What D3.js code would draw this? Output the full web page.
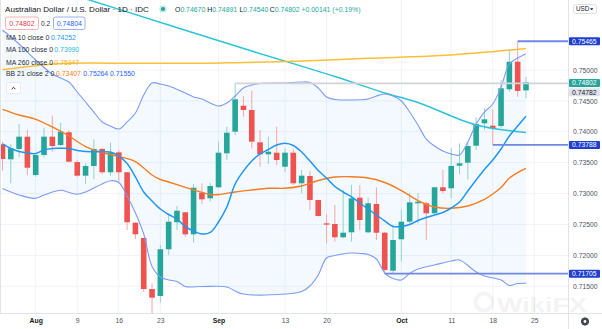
<!DOCTYPE html>
<html><head><meta charset="utf-8">
<script src="https://cdn.jsdelivr.net/npm/d3@7"></script>
<style>
body{margin:0;background:#fff;overflow:hidden}
svg{display:block}
text{font-family:"Liberation Sans",Arial,sans-serif}
</style></head>
<body><svg id="c" width="602" height="329"></svg>
<script>
// ---------- DATA ----------
const dates = ["Jul 27","Jul 28","Jul 29","Jul 30","Aug 2","Aug 3","Aug 4","Aug 5","Aug 6","Aug 9","Aug 10","Aug 11","Aug 12","Aug 13","Aug 16","Aug 17","Aug 18","Aug 19","Aug 20","Aug 23","Aug 24","Aug 25","Aug 26","Aug 27","Aug 30","Aug 31","Sep 1","Sep 2","Sep 3","Sep 6","Sep 7","Sep 8","Sep 9","Sep 10","Sep 13","Sep 14","Sep 15","Sep 16","Sep 17","Sep 20","Sep 21","Sep 22","Sep 23","Sep 24","Sep 27","Sep 28","Sep 29","Sep 30","Oct 1","Oct 4","Oct 5","Oct 6","Oct 7","Oct 8","Oct 11","Oct 12","Oct 13","Oct 14","Oct 15","Oct 18","Oct 19","Oct 20","Oct 21","Oct 22"];
const futureDays = ["Oct 25"];
const open  = [0.73798,0.73555,0.73722,0.73921,0.73301,0.73625,0.73921,0.73786,0.73992,0.73511,0.73290,0.73447,0.73722,0.73345,0.73668,0.73345,0.72529,0.72282,0.71456,0.71343,0.72099,0.72536,0.72697,0.72341,0.73015,0.72924,0.73102,0.73652,0.74002,0.74422,0.74353,0.73830,0.73636,0.73662,0.73435,0.73662,0.73167,0.73285,0.72896,0.72519,0.72508,0.72293,0.72374,0.72934,0.72374,0.72832,0.72367,0.71752,0.72261,0.72545,0.72843,0.72843,0.72681,0.73102,0.73086,0.73451,0.73500,0.73775,0.74138,0.74099,0.74094,0.74688,0.75134,0.74670];
const high  = [0.73840,0.73803,0.74126,0.74029,0.73657,0.74066,0.74261,0.74147,0.74029,0.73544,0.73490,0.73879,0.73733,0.73824,0.73706,0.73350,0.72532,0.72290,0.71549,0.72168,0.72681,0.72799,0.72702,0.73151,0.73167,0.73176,0.73840,0.74083,0.74782,0.74579,0.74665,0.74029,0.73921,0.74083,0.73733,0.73717,0.73382,0.73366,0.72904,0.72665,0.72816,0.73060,0.73139,0.73139,0.72934,0.73102,0.72380,0.72492,0.72746,0.73015,0.73005,0.72869,0.73107,0.73382,0.73733,0.73814,0.73840,0.74235,0.74380,0.74353,0.74838,0.75324,0.75465,0.74891];
const low   = [0.73371,0.73167,0.73587,0.73301,0.73273,0.73587,0.73678,0.73770,0.73510,0.73273,0.73155,0.73231,0.73312,0.73290,0.73193,0.72411,0.72265,0.71408,0.71063,0.71235,0.72007,0.72411,0.72303,0.72206,0.72832,0.72869,0.73086,0.73544,0.73948,0.74244,0.73733,0.73435,0.73474,0.73463,0.73354,0.73139,0.73005,0.72735,0.72627,0.72196,0.72222,0.72277,0.72222,0.72411,0.72358,0.72249,0.71705,0.71710,0.71898,0.72492,0.72519,0.72249,0.72654,0.73005,0.72924,0.73317,0.73231,0.73706,0.74029,0.73788,0.74057,0.74649,0.74568,0.74540];
const close = [0.73560,0.73733,0.73921,0.73419,0.73625,0.73921,0.73770,0.74002,0.73516,0.73290,0.73447,0.73722,0.73345,0.73668,0.73345,0.72536,0.72341,0.71456,0.71316,0.72099,0.72545,0.72723,0.72341,0.73095,0.72908,0.73123,0.73662,0.73985,0.74526,0.74353,0.73840,0.73636,0.73678,0.73544,0.73662,0.73167,0.73290,0.72896,0.72638,0.72497,0.72293,0.72367,0.72924,0.72573,0.72843,0.72367,0.71764,0.72249,0.72545,0.72859,0.72869,0.72681,0.73102,0.73042,0.73447,0.73490,0.73770,0.74126,0.74202,0.74062,0.74704,0.75134,0.74661,0.74802];

// MA 10 (one value per day)
const ma10 = [0.73803,0.73730,0.73681,0.73657,0.73649,0.73706,0.73730,0.73733,0.73730,0.73697,0.73681,0.73678,0.73678,0.73673,0.73608,0.73487,0.73269,0.73026,0.72880,0.72751,0.72662,0.72589,0.72464,0.72395,0.72346,0.72371,0.72541,0.72783,0.73155,0.73366,0.73528,0.73641,0.73714,0.73786,0.73814,0.73778,0.73673,0.73528,0.73374,0.73252,0.73115,0.73026,0.72945,0.72848,0.72751,0.72654,0.72557,0.72468,0.72468,0.72500,0.72565,0.72613,0.72654,0.72694,0.72767,0.72864,0.73042,0.73220,0.73390,0.73544,0.73722,0.73932,0.74094,0.74252];
// sparse series: [day index, value]
const ma100 = [[0,0.76570],[10,0.76152],[20,0.75728],[30,0.75307],[40,0.74895],[46,0.74628],[50,0.74474],[57,0.74110],[63,0.73990]];
const ma260 = [[0,0.75003],[4,0.75070],[8,0.75108],[16,0.75108],[24,0.75108],[28,0.75118],[36,0.75146],[44,0.75189],[54,0.75243],[63,0.75347]];
const bbUpper = [[0,0.75647],[2,0.75421],[4,0.75162],[6,0.74935],[7,0.74871],[8,0.74806],[9,0.74644],[10,0.74482],[11,0.74320],[12,0.74159],[13,0.74094],[14,0.74045],[15,0.74159],[16,0.74304],[17,0.74595],[18,0.74790],[19,0.74773],[20,0.74741],[22,0.74628],[23,0.74563],[24,0.74531],[25,0.74466],[26,0.74417],[27,0.74466],[28,0.74579],[29,0.74709],[30,0.74757],[31,0.74782],[34,0.74790],[36,0.74806],[37,0.74798],[38,0.74709],[39,0.74563],[40,0.74523],[42,0.74515],[44,0.74531],[45,0.74579],[46,0.74612],[47,0.74579],[48,0.74498],[49,0.74320],[50,0.74110],[51,0.73883],[52,0.73770],[53,0.73689],[54,0.73641],[55,0.73625],[56,0.73835],[57,0.74126],[58,0.74320],[59,0.74450],[60,0.74725],[61,0.75097],[62,0.75194],[63,0.75264]];
const bbLower = [[0,0.73083],[2,0.72977],[4,0.72924],[5,0.72977],[7,0.73053],[8,0.73018],[9,0.72989],[10,0.73026],[11,0.73091],[12,0.73155],[13,0.73209],[14,0.73180],[15,0.72961],[16,0.72686],[17,0.72346],[18,0.71820],[19,0.71650],[20,0.71602],[21,0.71578],[22,0.71497],[24,0.71497],[27,0.71489],[28,0.71424],[29,0.71375],[34,0.71375],[36,0.71416],[37,0.71505],[38,0.71683],[39,0.71958],[40,0.71998],[42,0.72039],[43,0.72031],[44,0.72015],[45,0.71942],[46,0.71715],[47,0.71626],[48,0.71602],[49,0.71707],[50,0.71780],[52,0.71845],[54,0.71909],[55,0.71926],[57,0.71731],[58,0.71667],[60,0.71602],[61,0.71513],[62,0.71545],[63,0.71550]];
const bbBasis = [[0,0.74364],[2,0.74272],[4,0.74202],[6,0.74078],[8,0.73932],[10,0.73762],[12,0.73665],[14,0.73600],[16,0.73519],[17,0.73414],[18,0.73301],[19,0.73228],[20,0.73188],[22,0.73102],[24,0.73021],[25,0.72985],[26,0.72985],[28,0.73026],[30,0.73058],[32,0.73086],[34,0.73086],[36,0.73123],[38,0.73212],[40,0.73269],[42,0.73273],[44,0.73252],[46,0.73180],[48,0.73050],[50,0.72888],[52,0.72783],[54,0.72762],[56,0.72799],[58,0.72905],[59,0.72994],[60,0.73099],[61,0.73252],[62,0.73341],[63,0.73407]];

// horizontal levels: [start day index, value]
const levels = [[62,0.75465],[59,0.73788],[46,0.71705]];
const grayLevel = [28,0.74782];
const lastPrice = 0.74802;

const yTickValues = [0.715,0.72,0.725,0.73,0.735,0.74,0.745,0.75];
const xTickDays = ["Aug 2","Aug 9","Aug 16","Aug 23","Sep 1","Sep 13","Sep 20","Oct 1","Oct 11","Oct 18","Oct 25"];
const xTickLabels = ["Aug","9","16","23","Sep","13","20","Oct","11","18","25"];
const monthLabels = ["Aug","Sep","Oct"];

// ---------- CHART ----------
const plotR = 568, plotB = 313;
const svg = d3.select("#c");
svg.append("rect").attr("width",602).attr("height",329).attr("fill","#fff");

const x = d3.scalePoint().domain(dates.concat(futureDays)).range([2.46, 534.3]);
const y = d3.scaleLinear().domain([0.715, 0.755]).range([286.3, 39.1]);
const xi = i => x(dates[i]);

// grid
const grid = svg.append("g");
grid.selectAll("line.h").data(yTickValues).join("line").attr("class","h")
  .attr("x1",0).attr("x2",plotR).attr("y1",d=>y(d)).attr("y2",d=>y(d))
  .attr("stroke","#f0f3fa").attr("stroke-width",1);
grid.selectAll("line.v").data(xTickDays).join("line").attr("class","v")
  .attr("x1",d=>x(d)).attr("x2",d=>x(d)).attr("y1",0).attr("y2",plotB)
  .attr("stroke","#f0f3fa").attr("stroke-width",1);

svg.append("clipPath").attr("id","clip").append("rect").attr("x",0).attr("y",0).attr("width",plotR).attr("height",plotB);
const g = svg.append("g").attr("clip-path","url(#clip)");

const lineGen = d3.line().x(d=>xi(d[0])).y(d=>y(d[1])).curve(d3.curveCatmullRom.alpha(0.5));

// BB fill
const upPath = lineGen(bbUpper);
const lowPath = lineGen(bbLower.slice().reverse()).replace(/^M/,"L");
g.append("path").attr("d", upPath + lowPath + "Z").attr("fill","rgba(33,150,243,0.055)");

// candles
const cand = g.append("g");
dates.forEach((d,i)=>{
  const up = close[i] >= open[i];
  const cx = xi(i);
  cand.append("line").attr("x1",cx).attr("x2",cx).attr("y1",y(high[i])).attr("y2",y(low[i]))
    .attr("stroke", up ? "#93d3cc" : "#f7a6a4").attr("stroke-width",1);
  const top = y(Math.max(open[i],close[i])), bot = y(Math.min(open[i],close[i]));
  cand.append("rect").attr("x",cx-2.8).attr("width",5.6).attr("y",top).attr("height",Math.max(1.2,bot-top))
    .attr("fill", up ? "#26a69a" : "#ef5350");
});

// indicator lines
function drawLine(pts,color,w){ g.append("path").attr("d",lineGen(pts)).attr("fill","none").attr("stroke",color).attr("stroke-width",w).attr("stroke-linejoin","round"); }
drawLine(ma100,"#2cc3d8",1.5);
drawLine(ma260,"#fbbf3a",1.5);
drawLine(bbUpper,"#7c9cf4",1.1);
drawLine(bbLower,"#7c9cf4",1.1);
drawLine(bbBasis,"#f57c20",1.4);
drawLine(ma10.map((v,i)=>[i,v]),"#2196f3",1.5);

// drawings: gray level and blue levels
g.append("line").attr("x1",xi(grayLevel[0])).attr("x2",plotR).attr("y1",y(grayLevel[1])).attr("y2",y(grayLevel[1]))
  .attr("stroke","#d1d4dc").attr("stroke-width",1.8);
levels.forEach(l=>{
  g.append("line").attr("x1",xi(l[0])).attr("x2",plotR).attr("y1",y(l[1])).attr("y2",y(l[1]))
    .attr("stroke","#6f87e6").attr("stroke-width",1.8);
});

// frame lines
svg.append("line").attr("x1",0).attr("x2",602).attr("y1",plotB+0.5).attr("y2",plotB+0.5).attr("stroke","#e0e3eb");
svg.append("line").attr("x1",plotR+0.5).attr("x2",plotR+0.5).attr("y1",0).attr("y2",329).attr("stroke","#e0e3eb");
svg.append("line").attr("x1",0.5).attr("x2",0.5).attr("y1",0).attr("y2",plotB).attr("stroke","#e0e3eb");

// watermark (faint)
svg.append("text").attr("x",497).attr("y",312).attr("font-size",21).attr("font-weight","bold").attr("fill","#000").attr("opacity",0.045)
  .attr("textLength",90).attr("lengthAdjust","spacingAndGlyphs").text("WikiFX");
svg.append("circle").attr("cx",484).attr("cy",302).attr("r",8.5).attr("fill","none").attr("stroke","#000").attr("stroke-width",4).attr("opacity",0.045);

// y axis
const yAxis = svg.append("g").attr("transform",`translate(${plotR},0)`)
  .call(d3.axisRight(y).tickValues(yTickValues).tickSize(0).tickPadding(5).tickFormat(d3.format(".5f")));
yAxis.select(".domain").remove();
yAxis.selectAll("text").attr("font-size",6.8).attr("fill","#50535e").attr("font-family","Liberation Sans, Arial, sans-serif");

// x axis
const xAxis = svg.append("g").attr("transform",`translate(0,${plotB})`)
  .call(d3.axisBottom(x).tickValues(xTickDays).tickSize(0).tickPadding(5).tickFormat((d,i)=>xTickLabels[i]));
xAxis.select(".domain").remove();
xAxis.selectAll("text").attr("font-size",6.8).attr("font-family","Liberation Sans, Arial, sans-serif")
  .attr("fill",function(){ return monthLabels.includes(this.textContent) ? "#131722" : "#50535e"; })
  .attr("font-weight",function(){ return monthLabels.includes(this.textContent) ? "bold" : "normal"; });

// price label boxes
function priceBox(v, cy, bg, fg){
  svg.append("rect").attr("x",569).attr("y",cy-4).attr("width",31).attr("height",8).attr("rx",1).attr("fill",bg);
  svg.append("text").attr("x",572).attr("y",cy+2.4).attr("font-size",6.8).attr("fill",fg).text(d3.format(".5f")(v));
}
levels.forEach(l=>priceBox(l[1], y(l[1]), "#1f3fd0", "#ffffff"));
priceBox(lastPrice, y(lastPrice)+0.8, "#26a69a", "#ffffff");
priceBox(grayLevel[1], y(lastPrice)+10, "#e0e3eb", "#131722");

// USD button
svg.append("rect").attr("x",573.5).attr("y",4.5).attr("width",23).attr("height",9).attr("rx",2).attr("fill","#fff").attr("stroke","#d1d4dc").attr("stroke-width",0.8);
svg.append("text").attr("x",576).attr("y",11.3).attr("font-size",6.3).attr("fill","#131722").text("USD");
svg.append("path").attr("d","M590,8.3 L593.4,8.3 L591.7,10.3 Z").attr("fill","#131722");

// gear icon
const gear = svg.append("g").attr("transform","translate(585,321.5)");
for(let k=0;k<8;k++){ gear.append("rect").attr("x",-0.9).attr("y",-4).attr("width",1.8).attr("height",8).attr("fill","#434651").attr("transform",`rotate(${k*22.5})`); }
gear.append("circle").attr("r",3).attr("fill","#434651");
gear.append("circle").attr("r",1.4).attr("fill","#fff");

// ---------- LEGEND ----------
const lg = svg.append("g");
lg.append("text").attr("x",5).attr("y",11.8).attr("font-size",8.1).attr("fill","#131722").text("Australian Dollar / U.S. Dollar · 1D · IDC");
lg.append("circle").attr("cx",163).attr("cy",9).attr("r",3.8).attr("fill","rgba(38,166,154,0.22)");
lg.append("circle").attr("cx",163).attr("cy",9).attr("r",2.1).attr("fill","#26a69a");
const ohlc = [["O","0.74670",175],["H","0.74891",207.3],["L","0.74540",239.5],["C","0.74802",269.8]];
ohlc.forEach(o=>{
  const t = lg.append("text").attr("x",o[2]).attr("y",11.5).attr("font-size",6.9);
  t.append("tspan").attr("fill","#131722").text(o[0]);
  t.append("tspan").attr("fill","#26a69a").text(o[1]);
});
lg.append("text").attr("x",301.5).attr("y",11.5).attr("font-size",6.9).attr("fill","#26a69a").text("+0.00141 (+0.19%)");

// bid/ask boxes
lg.append("rect").attr("x",5.5).attr("y",17).attr("width",33).attr("height",12.5).attr("rx",2).attr("fill","#fff").attr("stroke","#f7a9a7").attr("stroke-width",0.9);
lg.append("text").attr("x",22).attr("y",25.6).attr("text-anchor","middle").attr("font-size",7).attr("fill","#f23645").text("0.74802");
lg.append("text").attr("x",41).attr("y",25.6).attr("font-size",6.6).attr("fill","#2a2e39").text("0.2");
lg.append("rect").attr("x",53.5).attr("y",17).attr("width",31.5).attr("height",12.5).attr("rx",2).attr("fill","#fff").attr("stroke","#90a8f5").attr("stroke-width",0.9);
lg.append("text").attr("x",69.3).attr("y",25.6).attr("text-anchor","middle").attr("font-size",7).attr("fill","#2962ff").text("0.74804");

const legendRows = [
  {label:"MA 10 close 0", y:40, vals:[["0.74252","#2196f3",51]]},
  {label:"MA 100 close 0", y:52.4, vals:[["0.73990","#22bcd2",54.3]]},
  {label:"MA 260 close 0", y:64.7, vals:[["0.75347","#f5b22c",54.3]]},
  {label:"BB 21 close 2 0", y:76.4, vals:[["0.73407","#f57c20",56],["0.75264","#2962ff",83.3],["0.71550","#2962ff",110]]}
];
legendRows.forEach(r=>{
  lg.append("text").attr("x",6).attr("y",r.y).attr("font-size",6.9).attr("fill","#2a2e39").text(r.label);
  r.vals.forEach(v=>lg.append("text").attr("x",v[2]).attr("y",r.y).attr("font-size",6.9).attr("fill",v[1]).text(v[0]));
});
// collapse button
lg.append("rect").attr("x",6.5).attr("y",82.5).attr("width",14).attr("height",11).attr("rx",2).attr("fill","#fff").attr("stroke","#e0e3eb").attr("stroke-width",0.8);
lg.append("path").attr("d","M11.6,89.2 L13.5,87.3 L15.4,89.2").attr("fill","none").attr("stroke","#131722").attr("stroke-width",0.9);
</script>
</body></html>
